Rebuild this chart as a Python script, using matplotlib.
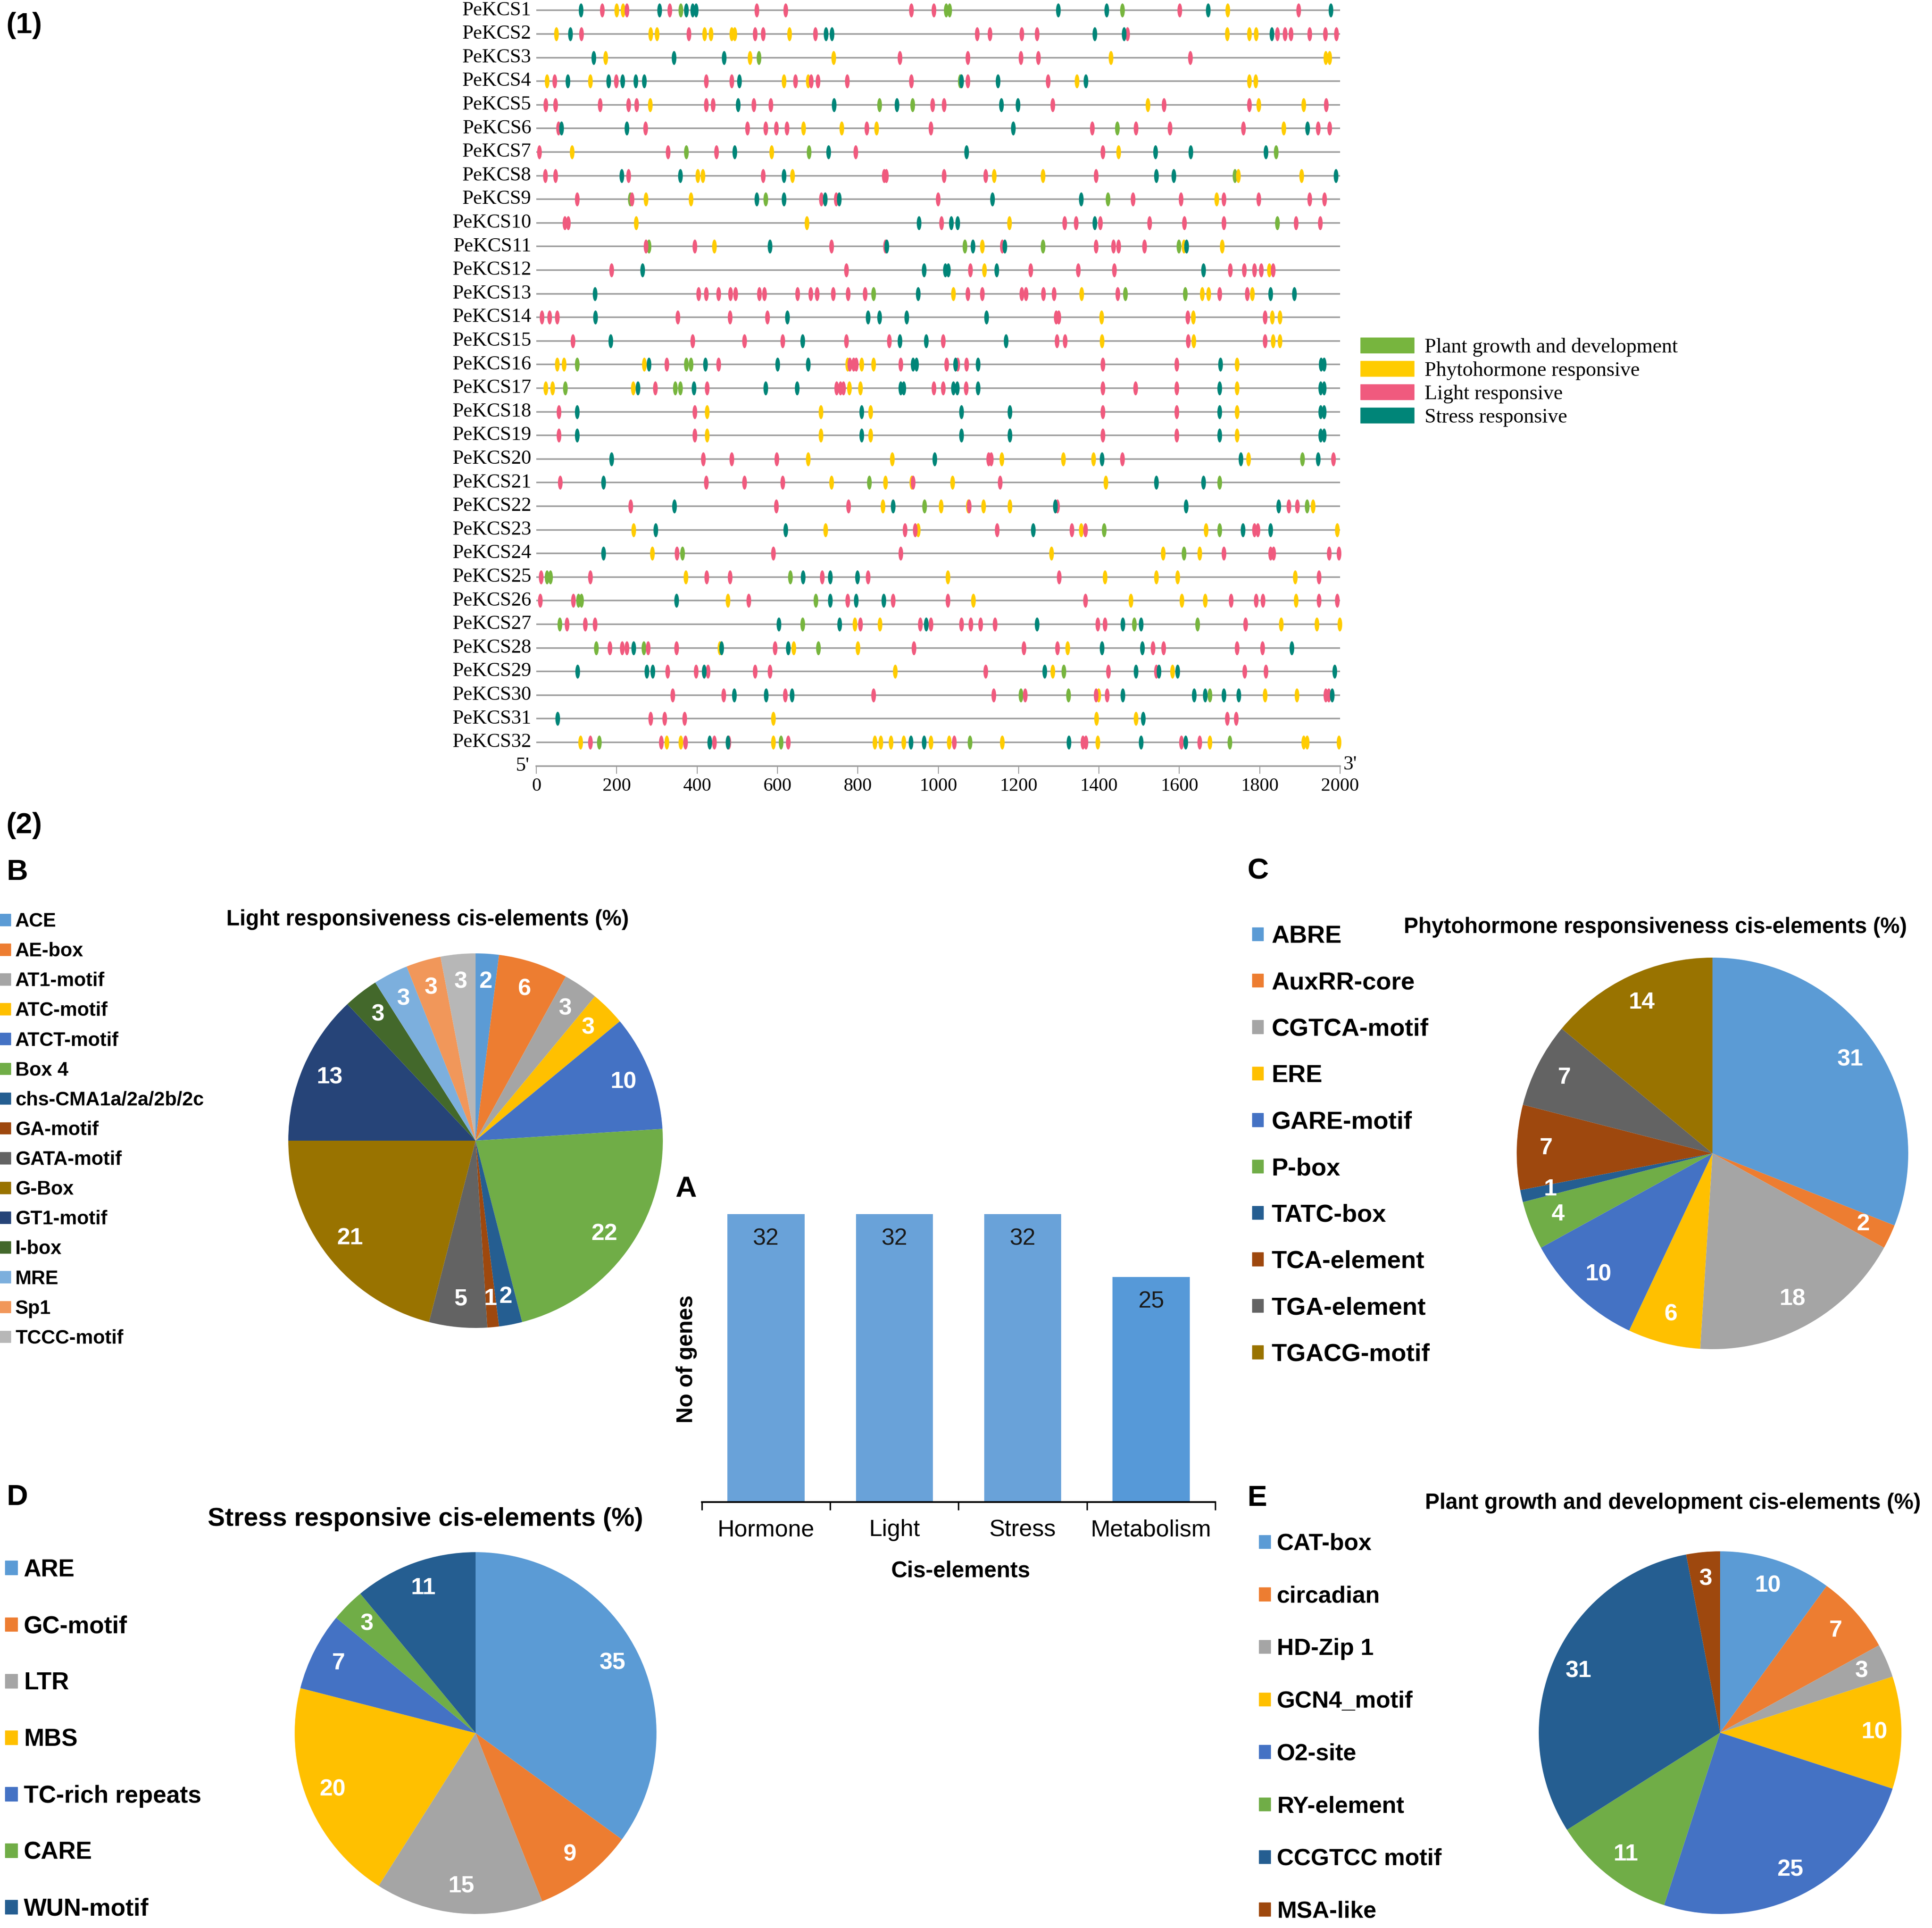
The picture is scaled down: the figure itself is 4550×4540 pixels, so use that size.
import matplotlib
matplotlib.use('Agg')
import matplotlib.pyplot as plt
import numpy as np
from matplotlib.path import Path
from matplotlib.patches import Patch

plt.rcParams['font.family'] = ['Liberation Sans', 'DejaVu Sans']

# ---------------- data: panel (1) cis-element positions (bp) ----------------
genes = ['PeKCS%d' % i for i in range(1, 33)]

light_sites = [
    [164, 225, 332, 548, 620, 933, 989, 1601, 1896],
    [112, 379, 544, 564, 694, 1097, 1128, 1208, 1246, 1471, 1844, 1863, 1877, 1924, 1963, 1990],
    [904, 1073, 1206, 1249, 1627],
    [45, 199, 423, 486, 645, 684, 701, 773, 933, 1073, 1273],
    [23, 48, 159, 229, 249, 423, 440, 541, 583, 986, 1014, 1285, 1562, 1774, 1965],
    [55, 271, 525, 571, 597, 623, 822, 981, 1383, 1492, 1576, 1759, 1945, 1974],
    [7, 327, 448, 795, 1409],
    [22, 48, 229, 564, 865, 871, 1014, 1118, 1392],
    [101, 238, 709, 746, 999, 1484, 1604, 1710, 1797, 1924, 1961],
    [71, 79, 1008, 1314, 1343, 1403, 1526, 1612, 1710, 1890, 1950],
    [273, 394, 734, 868, 1159, 1392, 1436, 1449, 1513],
    [187, 771, 1080, 1230, 1348, 1438, 1726, 1761, 1787, 1803, 1833],
    [404, 423, 453, 483, 495, 555, 567, 650, 682, 698, 738, 776, 818, 1073, 1109, 1208, 1218, 1262, 1288, 1446, 1700, 1769],
    [14, 33, 52, 352, 482, 575, 1293, 1299, 1621, 1813],
    [91, 389, 518, 613, 771, 878, 1012, 1295, 1315, 1622, 1813],
    [324, 453, 780, 789, 796, 907, 1021, 1048, 1070, 1409, 1593],
    [296, 425, 747, 756, 764, 989, 1012, 1069, 1409, 1491, 1593],
    [56, 394, 1409, 1593],
    [56, 394, 1409, 1593],
    [415, 486, 598, 1125, 1132, 1458, 1983],
    [59, 423, 518, 613, 937, 1154],
    [235, 597, 777, 1077, 1296, 1872, 1893],
    [917, 942, 1146, 1332, 1366, 1787, 1795],
    [350, 590, 907, 1710, 1827, 1834, 1973, 1997],
    [12, 134, 424, 482, 711, 825, 1301, 1947],
    [9, 92, 528, 774, 888, 1024, 1366, 1728, 1791, 1808, 1947, 1993],
    [76, 121, 146, 806, 955, 981, 1058, 1081, 1105, 1141, 1397, 1415, 1764],
    [183, 213, 225, 278, 349, 594, 939, 1213, 1296, 1534, 1560, 1743, 1807],
    [326, 397, 427, 544, 581, 1118, 1423, 1542, 1762, 1815],
    [339, 466, 619, 839, 1138, 1216, 1393, 1420, 1964, 1971],
    [284, 319, 369, 1719, 1741],
    [134, 311, 371, 443, 479, 626, 1040, 1360, 1367, 1605, 1650],
]

stress_sites = [
    [111, 306, 373, 389, 397, 1298, 1419, 1671, 1977],
    [85, 721, 735, 1389, 1462, 1830],
    [143, 342, 467],
    [78, 180, 215, 247, 268, 505, 1058, 1148, 1367],
    [502, 741, 897, 1157, 1198],
    [62, 225, 1187, 1919],
    [493, 727, 1070, 1540, 1628, 1815],
    [212, 358, 616, 1542, 1586, 1989],
    [548, 616, 718, 753, 1135, 1355],
    [952, 1032, 1048, 1389],
    [581, 872, 1086, 1165, 1618],
    [264, 965, 1017, 1025, 1145, 1660],
    [146, 950, 1827, 1886],
    [147, 624, 825, 854, 921, 1120],
    [185, 662, 904, 970, 1168],
    [280, 421, 600, 676, 937, 946, 1043, 1099, 1702, 1952, 1960],
    [252, 392, 571, 649, 906, 914, 1038, 1047, 1099, 1700, 1951, 1960],
    [101, 809, 1058, 1178, 1700, 1951, 1960],
    [101, 809, 1058, 1178, 1700, 1951, 1960],
    [187, 991, 1407, 1753, 1945],
    [167, 1543, 1660],
    [343, 887, 1291, 1616, 1847],
    [297, 620, 1236, 1758, 1827],
    [167],
    [663, 731, 799],
    [349, 731, 796, 864],
    [603, 754, 970, 1246, 1459, 1504],
    [242, 461, 626, 1407, 1508, 1880],
    [102, 275, 290, 417, 1265, 1492, 1549, 1595, 1986],
    [492, 572, 636, 1459, 1637, 1664, 1710, 1748, 1980],
    [53, 1510],
    [431, 476, 932, 965, 1325, 1505, 1615],
]

hormone_sites = [
    [200, 216, 1720],
    [50, 284, 300, 418, 434, 486, 493, 630, 1719, 1774, 1791],
    [172, 531, 740, 1429, 1964, 1974],
    [26, 134, 616, 676, 1345, 1774, 1790],
    [283, 1521, 1797, 1909],
    [665, 760, 846, 1859],
    [89, 585, 1448],
    [401, 414, 637, 1139, 1260, 1746, 1904],
    [273, 385, 1693],
    [248, 673, 1177],
    [443, 1109, 1611, 1706],
    [1115, 1824],
    [1038, 1357, 1657, 1673, 1781],
    [1406, 1634, 1831, 1850],
    [1407, 1635, 1833, 1850],
    [52, 69, 268, 774, 809, 839, 1743],
    [23, 40, 241, 779, 806, 1743],
    [425, 708, 832, 1743],
    [425, 708, 832, 1743],
    [676, 885, 1158, 1311, 1386, 1772],
    [734, 868, 934, 1035, 1417],
    [862, 1007, 1074, 1112, 1178, 1932],
    [242, 720, 950, 1355, 1666, 1993],
    [288, 1282, 1559, 1650],
    [372, 1024, 1415, 1542, 1595, 1888],
    [476, 1087, 1479, 1606, 1664, 1890],
    [792, 855, 1853, 1942, 1999],
    [456, 640, 800, 1322],
    [893, 1285, 1583],
    [1399, 1813, 1892],
    [590, 1394, 1492],
    [110, 324, 359, 590, 842, 857, 882, 914, 982, 1027, 1159, 1397, 1676, 1909, 1918, 1997],
]

growth_sites = [
    [359, 1020, 1028, 1458],
    [],
    [554],
    [1054],
    [854, 936],
    [1445],
    [373, 678, 1840],
    [1738],
    [234, 571, 1422],
    [1844],
    [280, 1066, 1260, 1598],
    [],
    [839, 1465, 1614],
    [],
    [],
    [101, 373, 385],
    [72, 345, 358],
    [],
    [],
    [1906],
    [828, 1700],
    [966, 1918],
    [1413, 1700],
    [363, 1611],
    [26, 35, 632],
    [105, 112, 695],
    [58, 662, 1488, 1645],
    [149, 267, 702],
    [1312],
    [1205, 1324, 1676],
    [],
    [156, 609, 1079, 1725],
]

category_names = ['Plant growth and development', 'Phytohormone responsive',
                  'Light responsive', 'Stress responsive']
category_colors = ['#77B53E', '#FFCC00', '#F05A7E', '#008578']
axis_ticks = list(range(0, 2001, 200))

# ---------------- data: panel (2) ----------------
bar_categories = ['Hormone', 'Light', 'Stress', 'Metabolism']
bar_counts = [32, 32, 32, 25]

light_names = ['ACE', 'AE-box', 'AT1-motif', 'ATC-motif', 'ATCT-motif', 'Box 4',
               'chs-CMA1a/2a/2b/2c', 'GA-motif', 'GATA-motif', 'G-Box', 'GT1-motif',
               'I-box', 'MRE', 'Sp1', 'TCCC-motif']
light_pct = [2, 6, 3, 3, 10, 22, 2, 1, 5, 21, 13, 3, 3, 3, 3]

hormone_names = ['ABRE', 'AuxRR-core', 'CGTCA-motif', 'ERE', 'GARE-motif', 'P-box',
                 'TATC-box', 'TCA-element', 'TGA-element', 'TGACG-motif']
hormone_pct = [31, 2, 18, 6, 10, 4, 1, 7, 7, 14]

stress_names = ['ARE', 'GC-motif', 'LTR', 'MBS', 'TC-rich repeats', 'CARE', 'WUN-motif']
stress_pct = [35, 9, 15, 20, 7, 3, 11]

growth_names = ['CAT-box', 'circadian', 'HD-Zip 1', 'GCN4_motif', 'O2-site',
                'RY-element', 'CCGTCC motif', 'MSA-like']
growth_pct = [10, 7, 3, 10, 25, 11, 31, 3]

office = ['#5B9BD5', '#ED7D31', '#A5A5A5', '#FFC000', '#4472C4', '#70AD47',
          '#255E91', '#9E480E', '#636363', '#997300', '#264478', '#43682B',
          '#7CAFDD', '#F1975A', '#B7B7B7']
bar_colors = ['#69A2D9', '#69A2D9', '#69A2D9', '#5699D8']

# ---------------- figure ----------------
W, H = 4550, 4540
fig = plt.figure(figsize=(W / 100, H / 100), dpi=100)


def fx(x):
    return x / W


def fy(y):
    return 1 - y / H


def box(x0, y0, x1, y1):
    return [fx(x0), fy(y1), (x1 - x0) / W, (y1 - y0) / H]


SERIF = ['Liberation Serif', 'DejaVu Serif']

# ---- panel (1) ----
ax = fig.add_axes(box(1263, 2.1, 3156, 1803.6))
ax.set_xlim(0, 2000)
ax.set_ylim(33, 0.6)
rows = np.arange(1, len(genes) + 1)
ax.hlines(rows, 0, 2000, colors='#9c9c9c', linewidth=2.6, zorder=1)

t = np.linspace(0, 2 * np.pi, 64)
ell = Path(np.column_stack([np.cos(t) / 3.0, np.sin(t)]), closed=True)
for sites_all, col in zip([growth_sites, hormone_sites, light_sites, stress_sites],
                          category_colors):
    for i, sites in enumerate(sites_all):
        if sites:
            ax.scatter(sites, [rows[i]] * len(sites), marker=ell, s=560, c=col,
                       linewidths=0, zorder=3, clip_on=False)

for i, g in enumerate(genes):
    ax.text(-12, rows[i], g, ha='right', va='center', fontsize=34, family=SERIF)

for s in ['top', 'left', 'right']:
    ax.spines[s].set_visible(False)
ax.spines['bottom'].set_color('#9c9c9c')
ax.spines['bottom'].set_linewidth(2.6)
ax.set_yticks([])
ax.set_xticks(axis_ticks)
ax.tick_params(axis='x', length=13, width=1.6, color='#9c9c9c', pad=7, labelsize=32)
for lab in ax.get_xticklabels():
    lab.set_family(SERIF)
ax.text(-18, 33, "5'", ha='right', va='center', fontsize=34, family=SERIF)
ax.text(2008, 32.95, "3'", ha='left', va='center', fontsize=34, family=SERIF)

fig.legend(handles=[Patch(color=c) for c in category_colors], labels=category_names,
           loc='upper left', bbox_to_anchor=(fx(3204), fy(795)), frameon=False,
           prop={'family': SERIF, 'size': 35}, handlelength=2.6, handleheight=0.76,
           handletextpad=0.5, labelspacing=0.21, borderpad=0, borderaxespad=0)

fig.text(fx(15), fy(60), '(1)', ha='left', va='center', fontsize=50, weight='bold')
fig.text(fx(15), fy(1944), '(2)', ha='left', va='center', fontsize=50, weight='bold')


# ---- pies ----
def pie_panel(cx, cy, r, vals, names, title, tpos, tsize, lg_left, lg_top,
              lg_size, lg_sq, lg_pad, lg_space):
    pax = fig.add_axes(box(cx - r, cy - r, cx + r, cy + r))
    cols = office[:len(vals)]
    pax.pie(vals, colors=cols, startangle=90, counterclock=False, radius=1,
            autopct=lambda p: '%.0f' % p, pctdistance=0.85,
            wedgeprops={'linewidth': 0},
            textprops={'color': 'white', 'fontsize': 40, 'weight': 'bold'})
    pax.set_xlim(-1, 1)
    pax.set_ylim(-1, 1)
    pax.set_aspect('auto')
    fig.text(fx(tpos[0]), fy(tpos[1]), title, ha='center', va='center',
             fontsize=tsize, weight='bold')
    fig.legend(handles=[Patch(color=c) for c in cols], labels=names,
               loc='upper left', bbox_to_anchor=(fx(lg_left), fy(lg_top)),
               frameon=False, prop={'size': lg_size, 'weight': 'bold'},
               handlelength=lg_sq, handleheight=lg_sq, handletextpad=lg_pad,
               labelspacing=lg_space, borderpad=0, borderaxespad=0)


pie_panel(1120, 2686, 441, light_pct, light_names,
          'Light responsiveness cis-elements (%)', (1007, 2166), 37,
          0, 2148, 33, 0.55, 0.24, 0.57)
pie_panel(4033, 2716, 461, hormone_pct, hormone_names,
          'Phytohormone responsiveness cis-elements (%)', (3899, 2183), 37,
          2949, 2178, 42, 0.45, 0.33, 0.95)
pie_panel(1120, 4081, 426, stress_pct, stress_names,
          'Stress responsive cis-elements (%)', (1002, 3578), 44,
          12, 3670, 41, 0.51, 0.26, 1.39)
pie_panel(4051, 4080, 427, growth_pct, growth_names,
          'Plant growth and development cis-elements (%)', (3940, 3540), 37,
          2965, 3610, 40, 0.49, 0.27, 1.29)

for letter, (lx, ly) in zip(['B', 'C', 'D', 'E'],
                            [(15, 2054), (2937, 2052), (15, 3526), (2937, 3528)]):
    fig.text(fx(lx), fy(ly), letter, ha='left', va='center', fontsize=50, weight='bold')

# ---- bar chart (A) ----
bax = fig.add_axes(box(1653, 2859, 2862, 3537))
xpos = np.arange(len(bar_categories))
bax.bar(xpos, bar_counts, width=0.6, color=bar_colors)
bax.set_xlim(-0.5, 3.5)
bax.set_ylim(0, 32)
for xi, v in zip(xpos, bar_counts):
    bax.annotate(str(v), (xi, v), xytext=(0, -42), textcoords='offset points',
                 ha='center', va='center', fontsize=40, color='#1a1a1a')
for s in ['top', 'left', 'right']:
    bax.spines[s].set_visible(False)
bax.spines['bottom'].set_linewidth(3)
bax.set_yticks([])
bax.set_xticks(xpos)
bax.set_xticklabels(bar_categories)
bax.set_xticks(np.arange(-0.5, 3.6, 1.0), minor=True)
bax.tick_params(axis='x', which='major', length=0, pad=29, labelsize=40)
bax.tick_params(axis='x', which='minor', length=14, width=2.5)
fig.text(fx(2263), fy(3700), 'Cis-elements', ha='center', va='center',
         fontsize=38, weight='bold')
fig.text(fx(1617), fy(3200), 'No of genes', ha='center', va='center',
         fontsize=38, weight='bold', rotation=90)
fig.text(fx(1590), fy(2800), 'A', ha='left', va='center', fontsize=50, weight='bold')

fig.savefig('out.png', dpi=100)
